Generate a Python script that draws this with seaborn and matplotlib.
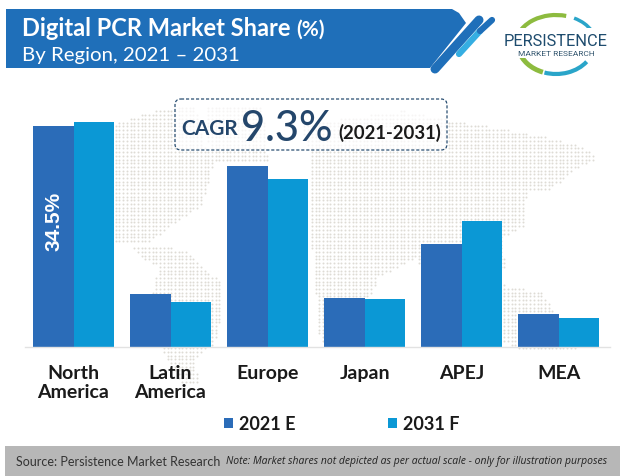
import numpy as np
import pandas as pd
import seaborn as sns
import matplotlib
matplotlib.use("Agg")
import matplotlib.pyplot as plt
from matplotlib import font_manager as fm
from matplotlib.patches import Polygon, Rectangle, FancyBboxPatch, Arc
from matplotlib.path import Path

regions = ["North\nAmerica", "Latin\nAmerica", "Europe", "Japan", "APEJ", "MEA"]
share_2021 = [34.5, 8.3, 28.3, 7.6, 16.1, 5.2]
share_2031 = [35.1, 7.0, 26.2, 7.5, 19.7, 4.5]
series_names = ["2021 E", "2031 F"]

sns.set_theme(style="white")
plt.rcParams["font.family"] = ["Lato", "DejaVu Sans"]

W, H = 620, 477
BLUE1, BLUE2 = "#2b6cb8", "#0b98d5"
fig = plt.figure(figsize=(W / 100, H / 100), dpi=100, facecolor="white")

# ---- background layer, in pixel coordinates
bg = fig.add_axes([0, 0, 1, 1], zorder=0)
bg.set_xlim(0, W); bg.set_ylim(H, 0); bg.axis("off")

land = [
    [(112,125),(150,113),(195,106),(205,150),(215,158),(207,190),(200,207),(177,223),(145,245),(112,245)],
    [(130,247),(187,250),(200,265),(165,268),(145,262)],
    [(160,266),(200,264),(222,285),(223,312),(214,345),(196,358),(198,385),(180,385),(162,350),(150,300)],
    [(205,107),(262,107),(268,162),(210,162)],
    [(300,125),(403,112),(463,123),(523,133),(583,147),(597,160),(570,173),(550,192),(527,193),(524,227),(503,238),(505,270),(420,270),(417,258),(310,228),(310,153)],
    [(310,228),(418,258),(378,278),(370,300),(345,345),(320,345),(316,300)],
    [(503,286),(542,293),(578,352),(525,352),(503,342)],
]
gx, gy = np.meshgrid(np.arange(112, 600, 3.7), np.arange(105, 386, 3.7))
pts = np.c_[gx.ravel(), gy.ravel()]
mask = np.zeros(len(pts), bool)
for poly in land:
    mask |= Path(poly).contains_points(pts)
bg.scatter(pts[mask, 0], pts[mask, 1], s=2.0, c="#dedbd5", linewidths=0)

# ---- banner
bg.add_patch(Polygon([(6,10),(452,10),(459,14),(466,24),(430,69),(6,69)], closed=True, fc="#1f6fb9", ec="none"))
bg.plot([435,479],[70,21], color="#1f6fb9", lw=6.5, solid_capstyle="round")
bg.plot([459,480],[55,32], color="#35aee2", lw=4.5, solid_capstyle="round")
bg.plot([480,492],[32,21], color="#1f6fb9", lw=4.5, solid_capstyle="round")

# ---- footer
bg.add_patch(Rectangle((5,447), 615, 30, fc="#b7b7b7", ec="none"))

# ---- chart
ax = fig.add_axes([25 / W, (H - 348) / H, 585 / W, 247 / H], zorder=2)
ax.patch.set_alpha(0)
df = pd.DataFrame({
    "Region": regions * 2,
    "Share": share_2021 + share_2031,
    "Year": [series_names[0]] * 6 + [series_names[1]] * 6,
})
sns.barplot(data=df, x="Region", y="Share", hue="Year", palette=[BLUE1, BLUE2],
            width=0.835, gap=0, dodge=True, ax=ax, saturation=1, linewidth=0)
ax.set_xlim(-0.5, 5.53)
ax.set_ylim(0, 38.56)
ax.set_xlabel(""); ax.set_ylabel("")
ax.set_yticks([])
sns.despine(ax=ax, left=True)
ax.spines["bottom"].set_color("#e2e2e2")
ax.spines["bottom"].set_linewidth(1)
ax.tick_params(axis="x", length=0, pad=12)
for t in ax.get_xticklabels():
    t.set_fontsize(14); t.set_fontweight("bold"); t.set_color("#1a1a1a"); t.set_linespacing(1.2)

ax.text(-0.2, 19.8, "34.5%", rotation=90, color="white", fontsize=15, fontweight="bold",
        ha="center", va="center", family="Liberation Sans")

leg = ax.legend(loc="center left", bbox_to_anchor=(199 / 585, -77 / 247), ncol=2, frameon=False,
                handlelength=0.5, handleheight=0.5, handletextpad=0.35, columnspacing=5.1,
                prop={"size": 13, "weight": "bold", "family": "Lato"}, borderpad=0, borderaxespad=0)
for t in leg.get_texts():
    t.set_color("#1a1a1a")

# ---- foreground layer
fg = fig.add_axes([0, 0, 1, 1], zorder=3)
fg.set_xlim(0, W); fg.set_ylim(H, 0); fg.axis("off")

fg.text(22, 28, "Digital PCR Market Share", color="white", fontsize=17, fontweight="bold", va="center", ha="left")
fg.text(296, 30, "(%)", color="white", fontsize=15, fontweight="bold", va="center", ha="left")
fg.text(22, 55, "By Region, 2021 \u2013 2031", color="white", fontsize=14.7, va="center", ha="left")

fg.add_patch(FancyBboxPatch((175,100), 272, 51, boxstyle="round,pad=0,rounding_size=6",
                            fc=(1,1,1,0.75), ec="#2a4f72", lw=0.9, ls=(0,(2.5,1.5))))
fg.text(181, 135, "CAGR", color="#24466b", fontsize=15, fontweight="bold", va="baseline")
fg.text(241, 141, "9.3%", color="#24466b", fontsize=30, fontweight="medium", va="baseline")
fg.text(338, 139, "(2021-2031)", color="#1a1a1a", fontsize=13.3, fontweight="bold", va="baseline")

# ---- logo
fg.add_patch(Arc((556,45), 80, 58, theta1=185, theta2=290, color="#8dbb3f", lw=3))
fg.add_patch(Arc((556,45), 80, 58, theta1=305, theta2=340, color="#2aa5c9", lw=2.5))
fg.add_patch(Arc((556,45), 76, 60, theta1=115, theta2=170, color="#8dbb3f", lw=3.5))
fg.add_patch(Arc((556,45), 76, 60, theta1=30, theta2=112, color="#2aa5c9", lw=3))
available = {f.name for f in fm.fontManager.ttflist}
narrow = "Liberation Sans Narrow" in available
fg.add_patch(Rectangle((503,29), 106, 30, fc="white", ec="none"))
fg.text(556, 41, "PERSISTENCE", color="#1e4c6e", va="center", ha="center",
        fontsize=15 if narrow else 11.8, family="Liberation Sans Narrow" if narrow else "Roboto")
fg.text(556, 54, "MARKET RESEARCH", color="#33566f", fontsize=6, va="center", ha="center", family="Roboto")

fg.text(16, 462, "Source: Persistence Market Research", color="#333333", fontsize=9.0, va="center", ha="left")
fg.text(226, 462, "Note: Market shares not depicted as per actual scale - only for illustration purposes",
        color="#222222", fontsize=7.45, style="italic", va="center", ha="left", family="Open Sans")

fig.savefig("out.png", dpi=100)
